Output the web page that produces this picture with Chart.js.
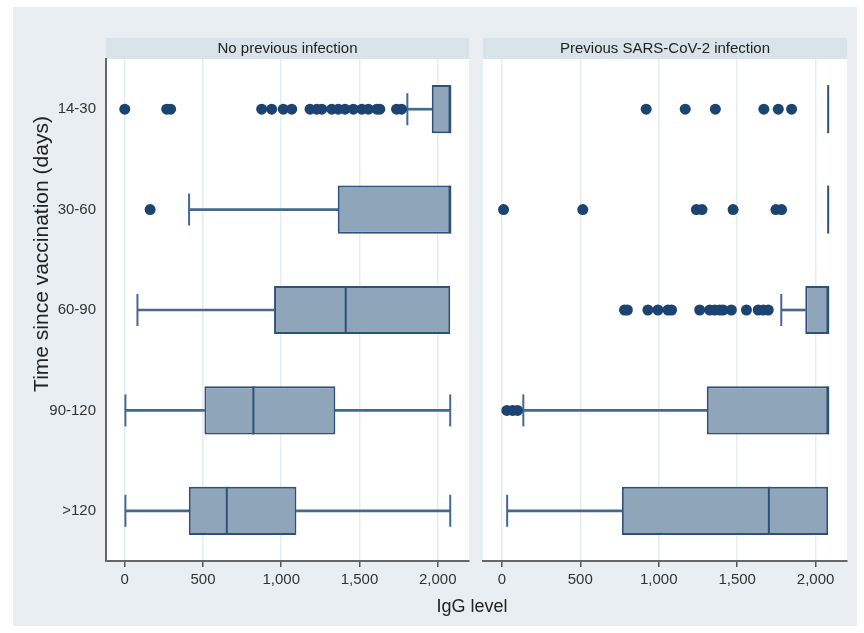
<!DOCTYPE html>
<html>
<head>
<meta charset="utf-8">
<script src="https://cdn.jsdelivr.net/npm/chart.js@4.4.0/dist/chart.umd.min.js"></script>
<style>
  body { margin: 0; background: #fff; font-family: "Liberation Sans", Arial, sans-serif; }
  #wrap { position: relative; width: 864px; height: 633px; }
  #bg { position: absolute; left: 13px; top: 7px; width: 844px; height: 619px; background: #e8eef2; }
  #leftBox { position: absolute; left: 0; top: 0; width: 478px; height: 633px; }
  #rightBox { position: absolute; left: 478px; top: 0; width: 386px; height: 633px; }
  #xTitle { position: absolute; left: 372px; top: 596px; width: 200px; text-align: center; font-size: 18px; color: #222; }
</style>
</head>
<body>
<div id="wrap">
  <div id="bg"></div>
  <div id="leftBox"><canvas id="leftChart" width="478" height="633"></canvas></div>
  <div id="rightBox"><canvas id="rightChart" width="386" height="633"></canvas></div>
  <div id="xTitle">IgG level</div>
</div>
<script>
// Categories (time since vaccination, days)
const categories = ['14-30', '30-60', '60-90', '90-120', '>120'];
const xTicks = [0, 500, 1000, 1500, 2000];

// No previous infection
const noInfLow = [1806, 411, 81, 4, 4];
const noInfQ1 = [1962, 1361, 954, 509, 409];
const noInfMedian = [2080, 2080, 1412, 822, 652];
const noInfQ3 = [2080, 2080, 2080, 1346, 1097];
const noInfHigh = [2080, 2080, 2080, 2080, 2080];
const noInfOutliers = [
    [0, 268, 293, 875, 939, 1013, 1067, 1184, 1227, 1259, 1323, 1365, 1408, 1461, 1515, 1557, 1611, 1630, 1737, 1769],
    [162],
    [],
    [],
    []
];

// Previous SARS-CoV-2 infection
const prevInfLow = [2080, 2080, 1781, 137, 34];
const prevInfQ1 = [2080, 2080, 1934, 1306, 765];
const prevInfMedian = [2080, 2080, 2080, 2080, 1702];
const prevInfQ3 = [2080, 2080, 2080, 2080, 2080];
const prevInfHigh = [2080, 2080, 2080, 2080, 2080];
const prevInfOutliers = [
    [920, 1169, 1361, 1670, 1762, 1847],
    [11, 516, 1240, 1276, 1474, 1747, 1783],
    [782, 800, 931, 995, 1059, 1082, 1261, 1325, 1357, 1389, 1410, 1463, 1559, 1634, 1666, 1698],
    [32, 68, 100],
    []
];

Chart.defaults.font.family = '"Liberation Sans", Arial, sans-serif';

const boxFill = '#8fa5b9';
const boxLine = '#2d5179';
const dotColor = '#1b4472';
const whiskerColor = '#44698f';

// White plot area, panel header strip, y title
const panelPlugin = {
    id: 'panel',
    beforeDraw(chart, args, opts) {
        const a = chart.chartArea;
        const ctx = chart.ctx;
        ctx.save();
        ctx.fillStyle = '#ffffff';
        ctx.fillRect(a.left, a.top, a.right - a.left, a.bottom - a.top);
        ctx.fillStyle = '#d8e3ea';
        ctx.fillRect(a.left, a.top - 21, a.right - a.left, 21);
        ctx.fillStyle = '#222';
        ctx.font = '15px "Liberation Sans", Arial, sans-serif';
        ctx.textAlign = 'center';
        ctx.textBaseline = 'middle';
        ctx.fillText(opts.text, (a.left + a.right) / 2, a.top - 10);
        if (opts.yTitle) {
            ctx.translate(42, 254);
            ctx.rotate(-Math.PI / 2);
            ctx.font = '21px "Liberation Sans", Arial, sans-serif';
            ctx.fillText(opts.yTitle, 0, 0);
        }
        ctx.restore();
    }
};

function buildDatasets(low, q1, med, q3, high, outliers) {
    const lowCaps = [], highCaps = [], medians = [], dots = [];
    categories.forEach((c, i) => {
        if (low[i] < q1[i]) lowCaps.push({ x: low[i], y: c });
        if (high[i] > q3[i]) highCaps.push({ x: high[i], y: c });
        medians.push({ x: med[i], y: c });
        outliers[i].forEach(v => dots.push({ x: v, y: c }));
    });
    const whiskerOpts = {
        type: 'bar', indexAxis: 'y', grouped: false,
        backgroundColor: whiskerColor, borderWidth: 0, barThickness: 2, order: 3
    };
    const lineMark = {
        type: 'scatter', pointStyle: 'line', rotation: 90,
        borderColor: whiskerColor, borderWidth: 2, backgroundColor: whiskerColor, order: 1
    };
    return [
        Object.assign({ data: categories.map((c, i) => low[i] < q1[i] ? [low[i], q1[i]] : null) }, whiskerOpts),
        Object.assign({ data: categories.map((c, i) => high[i] > q3[i] ? [q3[i], high[i]] : null) }, whiskerOpts),
        {
            type: 'bar', indexAxis: 'y', grouped: false,
            data: categories.map((c, i) => [q1[i], q3[i]]),
            backgroundColor: boxFill, borderColor: boxLine, borderWidth: 2, borderSkipped: false,
            categoryPercentage: 1, barPercentage: 0.48, order: 2
        },
        Object.assign({ data: lowCaps, pointRadius: 16 }, lineMark),
        Object.assign({ data: highCaps, pointRadius: 16 }, lineMark),
        Object.assign({ data: medians, pointRadius: 24 }, lineMark, { borderColor: boxLine, order: 0 }),
        { type: 'scatter', data: dots, pointStyle: 'circle', pointRadius: 5.5,
          backgroundColor: dotColor, borderColor: dotColor, borderWidth: 0, order: 0 }
    ];
}

function xScale() {
    return {
        type: 'linear', min: -120, max: 2200, offset: false,
        afterBuildTicks: s => { s.ticks = xTicks.map(v => ({ value: v })); },
        afterFit: s => { s.height = 40; },
        grid: { color: '#e4edf1', lineWidth: 1.5, tickColor: '#555', tickLength: 6, drawTicks: true, offset: false },
        border: { display: true, color: '#666', width: 2 },
        ticks: { color: '#333', font: { size: 15 }, padding: 4, callback: v => v.toLocaleString('en-US') }
    };
}

function makeChart(id, datasets, title, showY, padding) {
    new Chart(document.getElementById(id), {
        type: 'bar',
        data: { labels: categories, datasets: datasets },
        options: {
            responsive: false,
            animation: false,
            layout: { padding: padding, autoPadding: false },
            scales: {
                x: xScale(),
                y: {
                    type: 'category', labels: categories, offset: true, display: showY,
                    afterFit: s => { s.width = showY ? 78 : 0; },
                    grid: { display: false, drawTicks: false, offset: false },
                    border: { display: true, color: '#666', width: 2 },
                    ticks: { color: '#333', font: { size: 15 }, padding: 10 }
                }
            },
            plugins: {
                legend: { display: false },
                tooltip: { enabled: false },
                panel: { text: title, yTitle: showY ? 'Time since vaccination (days)' : '' }
            }
        },
        plugins: [panelPlugin]
    });
}

makeChart('leftChart',
    buildDatasets(noInfLow, noInfQ1, noInfMedian, noInfQ3, noInfHigh, noInfOutliers),
    'No previous infection', true,
    { left: 28, right: 9, top: 59, bottom: 32 });

makeChart('rightChart',
    buildDatasets(prevInfLow, prevInfQ1, prevInfMedian, prevInfQ3, prevInfHigh, prevInfOutliers),
    'Previous SARS-CoV-2 infection', false,
    { left: 5, right: 17, top: 59, bottom: 32 });
</script>
</body>
</html>
